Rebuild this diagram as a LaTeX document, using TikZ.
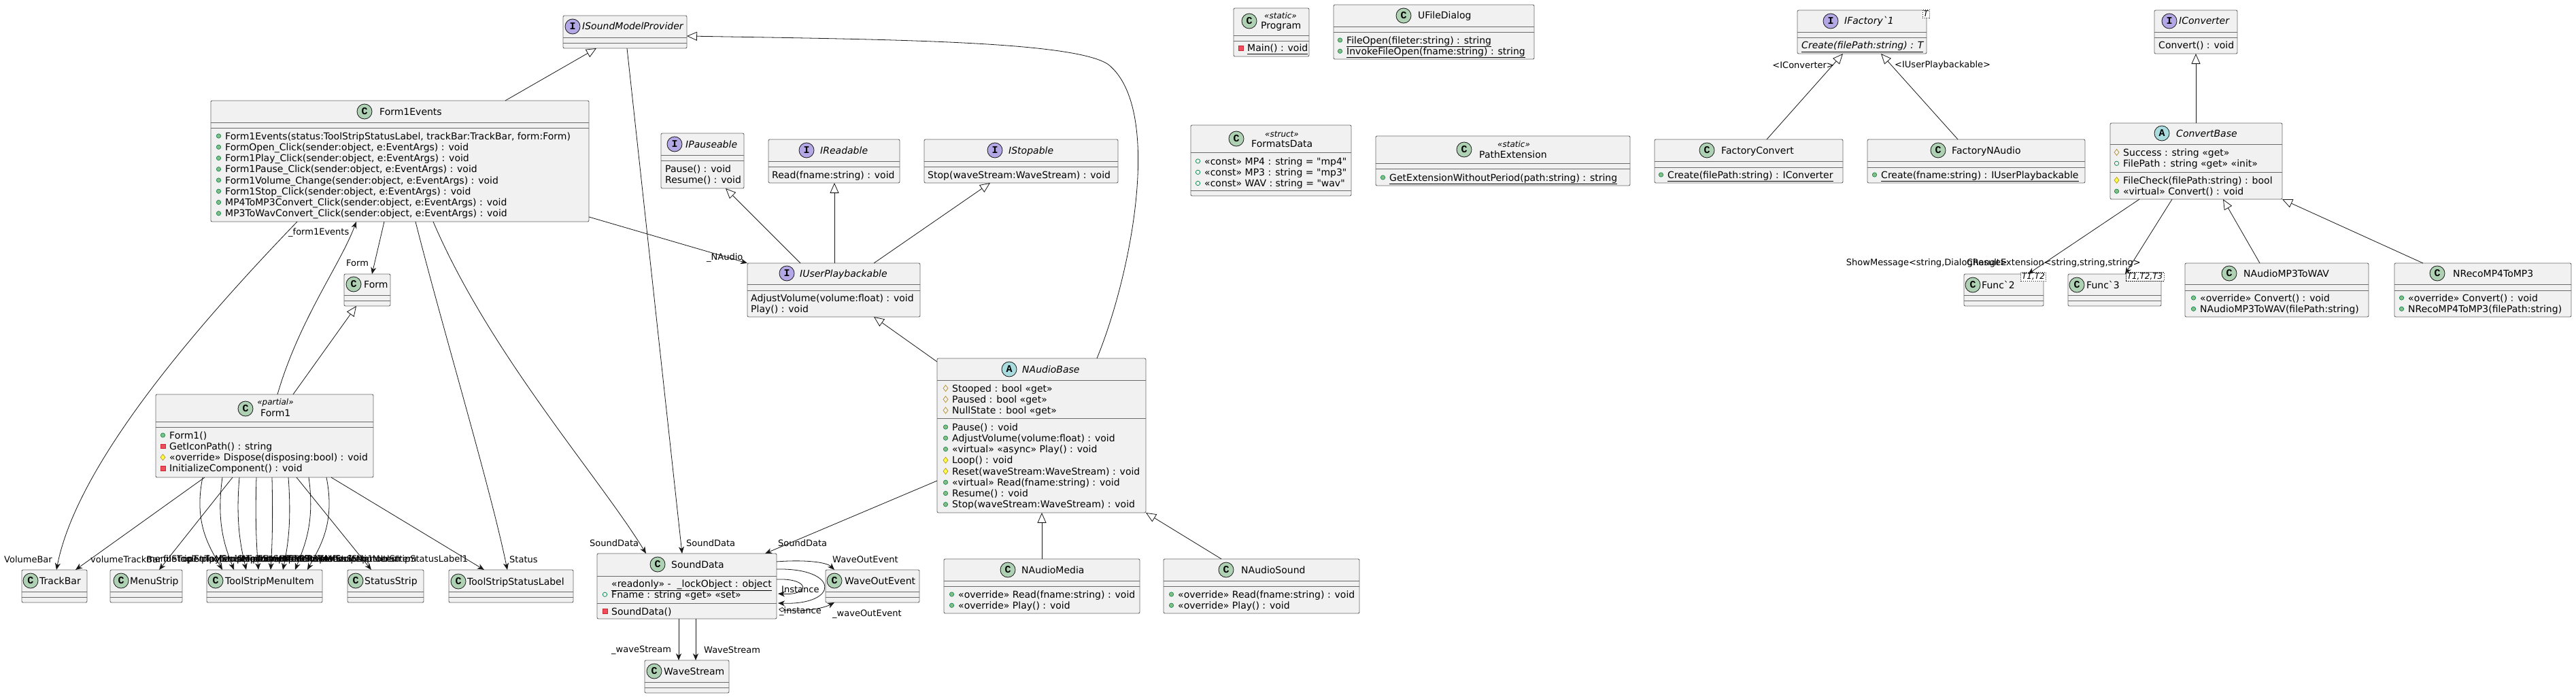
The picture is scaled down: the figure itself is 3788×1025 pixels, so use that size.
\documentclass[tikz,border=0pt]{standalone}
\usepackage{fontspec}
\newfontfamily\umlfont{DejaVu Sans}
\newfontfamily\iconfont{Liberation Mono}
\usetikzlibrary{arrows.meta,calc}
\definecolor{boxfill}{HTML}{F1F1F1}
\definecolor{ink}{HTML}{181818}
\definecolor{cgreen}{HTML}{ADD1B2}
\definecolor{ipurple}{HTML}{B4A7E5}
\definecolor{acyan}{HTML}{A9DCDF}
\definecolor{pubfill}{HTML}{84BE84}
\definecolor{publine}{HTML}{038048}
\definecolor{privfill}{HTML}{F24D5C}
\definecolor{privline}{HTML}{C82930}
\definecolor{protfill}{HTML}{FFFF44}
\definecolor{protline}{HTML}{B38D22}
\tikzset{
 ubox/.style={draw=ink!65, line width=0.9pt, fill=boxfill, rounded corners=2pt, inner sep=0, outer sep=0, anchor=north west},
 divl/.style={draw=ink!65, line width=0.9pt},
 icn/.style={circle, draw=ink, line width=0.8pt, minimum size=22pt, inner sep=0, font=\iconfont\bfseries\fontsize{15}{15}\selectfont},
 icnC/.style={icn, fill=cgreen}, icnI/.style={icn, fill=ipurple}, icnA/.style={icn, fill=acyan},
 ttl/.style={font=\umlfont\fontsize{14}{16}\selectfont, inner sep=0, anchor=base west},
 ttli/.style={ttl, font=\umlfont\itshape\fontsize{14}{16}\selectfont},
 ster/.style={font=\umlfont\itshape\fontsize{12}{14}\selectfont, inner sep=0},
 mem/.style={font=\umlfont\fontsize{14}{16}\selectfont, inner sep=0, anchor=base west},
 elab/.style={font=\umlfont\fontsize{13}{15}\selectfont, inner sep=0, anchor=west},
 conn/.style={draw=ink, line width=0.8pt},
 arr/.style={conn, -{Stealth[length=10pt,width=8pt,inset=3pt]}},
 gen/.style={conn, -{Triangle[length=15pt,width=13pt,fill=white]}},
 tmpl/.style={draw=ink, dash pattern=on 1.5pt off 1.5pt, fill=white, inner sep=1.5pt, font=\umlfont\itshape\fontsize{12}{13}\selectfont},
}
\newcommand\ubx[5]{\pgfmathsetmacro\bw{#4-#2}\pgfmathsetmacro\bh{#5-#3}\node[ubox,minimum width=\bw pt,minimum height=\bh pt] (#1) at (#2,#3) {};}
\newcommand\dv[2]{\draw[divl] (#1.west |- 0,#2) -- (#1.east |- 0,#2);}
\newcommand\hdr[7]{\node[icn#4] (#1ic) at (#2,#3) {#4};\pgfmathsetmacro\yb{#3+5}\node[#6] (#1tt) at (#5,\yb) {#7};}
\newcommand\vispm[2]{\filldraw[fill=pubfill,draw=publine,line width=0.6pt] (#1,#2) circle (3.2pt);}
\newcommand\vispf[2]{\draw[draw=publine,line width=0.7pt] (#1,#2) circle (3.2pt);}
\newcommand\visrm[2]{\filldraw[fill=privfill,draw=privline,line width=0.6pt] ($(#1,#2)+(-3.3,-3.3)$) rectangle ($(#1,#2)+(3.3,3.3)$);}
\newcommand\visym[2]{\filldraw[fill=protfill,draw=protline,line width=0.6pt] ($(#1,#2)+(0,-4.5)$) -- ($(#1,#2)+(3.5,0)$) -- ($(#1,#2)+(0,4.5)$) -- ($(#1,#2)+(-3.5,0)$) -- cycle;}
\newcommand\visyf[2]{\draw[draw=protline,line width=0.7pt] ($(#1,#2)+(0,-4.5)$) -- ($(#1,#2)+(3.5,0)$) -- ($(#1,#2)+(0,4.5)$) -- ($(#1,#2)+(-3.5,0)$) -- cycle;}
\newcommand\visn[2]{}
\newcommand\mems[4]{\foreach \k/\t [count=\i] in {#4}{\pgfmathsetmacro\yy{#3+(\i-1)*16.25}\pgfmathsetmacro\yb{\yy+5}\pgfmathsetmacro\xx{#2-9.5}\csname vis\k\endcsname{\xx}{\yy}\node[mem] (#1\i) at (#2,\yb) {\t};}}
\begin{document}
\begin{tikzpicture}[x=1pt,y=-1pt]
\fill[white] (0,0) rectangle (3788,1025);
\useasboundingbox (0,0) rectangle (3788,1025);

% ---------------- boxes ----------------
\ubx{ISMP}{828}{23}{1010}{71}
\ubx{F1E}{310}{148}{866}{326}
\ubx{IPause}{972}{196}{1094}{277}
\ubx{IRead}{1130}{205}{1323}{269}
\ubx{IStop}{1359}{205}{1644}{269}
\ubx{IUP}{1099}{387}{1353}{466}
\ubx{NAB}{1378}{527}{1685}{754}
\ubx{NAM}{1388}{822}{1676}{902}
\ubx{NAS}{1711}{822}{1999}{902}
\ubx{SD}{878}{814}{1142}{910}
\ubx{WOE}{1214}{838}{1352}{886}
\ubx{WS}{948}{971}{1072}{1019}
\ubx{TSSL}{660}{838}{843}{886}
\ubx{Form}{506}{403}{574}{450}
\ubx{Form1}{229}{580}{549}{702}
\ubx{TB}{32}{838}{128}{886}
\ubx{MS}{162}{838}{268}{886}
\ubx{TSMI}{304}{838}{474}{886}
\ubx{SS}{511}{838}{623}{886}
\ubx{Prog}{1814}{12}{1925}{83}
\ubx{UFD}{1961}{7}{2256}{87}
\ubx{FD}{1751}{184}{1987}{288}
\ubx{PE}{2023}{200}{2397}{273}
\ubx{IF}{2643}{15}{2833}{79}
\ubx{FC}{2433}{205}{2710}{269}
\ubx{FN}{2746}{205}{3066}{269}
\ubx{IC}{3168}{15}{3290}{79}
\ubx{CB}{3103}{181}{3356}{293}
\ubx{FnA}{2888}{403}{3005}{450}
\ubx{FnB}{3041}{403}{3178}{450}
\ubx{MW}{3213}{387}{3483}{466}
\ubx{NR}{3521}{387}{3781}{466}

% ---------------- dividers ----------------
\dv{ISMP}{55}\dv{ISMP}{63}
\dv{F1E}{180}\dv{F1E}{188}
\dv{IPause}{228}\dv{IPause}{236}
\dv{IRead}{237}\dv{IRead}{245}
\dv{IStop}{237}\dv{IStop}{245}
\dv{IUP}{418}\dv{IUP}{427}
\dv{NAB}{559}\dv{NAB}{615}
\dv{NAM}{854}\dv{NAM}{862}
\dv{NAS}{854}\dv{NAS}{862}
\dv{SD}{847}\dv{SD}{887}
\dv{WOE}{870}\dv{WOE}{878}
\dv{WS}{1003}\dv{WS}{1011}
\dv{TSSL}{870}\dv{TSSL}{878}
\dv{Form}{434}\dv{Form}{442}
\dv{Form1}{620}\dv{Form1}{628}
\dv{TB}{870}\dv{TB}{878}
\dv{MS}{870}\dv{MS}{878}
\dv{TSMI}{870}\dv{TSMI}{878}
\dv{SS}{870}\dv{SS}{878}
\dv{Prog}{52}\dv{Prog}{60}
\dv{UFD}{39}\dv{UFD}{47}
\dv{FD}{224}\dv{FD}{280}
\dv{PE}{240}\dv{PE}{248}
\dv{IF}{47}\dv{IF}{55}
\dv{FC}{237}\dv{FC}{246}
\dv{FN}{237}\dv{FN}{246}
\dv{IC}{47}\dv{IC}{55}
\dv{CB}{212}\dv{CB}{253}
\dv{FnA}{434}\dv{FnA}{442}
\dv{FnB}{434}\dv{FnB}{442}
\dv{MW}{418}\dv{MW}{427}
\dv{NR}{418}\dv{NR}{427}

% ---------------- headers ----------------
\hdr{ISMP}{842}{39}{I}{856}{ttli}{ISoundModelProvider}
\hdr{F1E}{536}{164}{C}{558}{ttl}{Form1Events}
\hdr{IPause}{992}{212}{I}{1008}{ttli}{IPauseable}
\hdr{IRead}{1186}{221}{I}{1206}{ttli}{IReadable}
\hdr{IStop}{1463}{221}{I}{1483}{ttli}{IStopable}
\hdr{IUP}{1157}{402}{I}{1176}{ttli}{IUserPlaybackable}
\hdr{NAB}{1484}{543}{A}{1503}{ttli}{NAudioBase}
\hdr{NAM}{1482}{838}{C}{1502}{ttl}{NAudioMedia}
\hdr{NAS}{1803}{838}{C}{1825}{ttl}{NAudioSound}
\hdr{SD}{967}{830}{C}{987}{ttl}{SoundData}
\hdr{WOE}{1227}{854}{C}{1242}{ttl}{WaveOutEvent}
\hdr{WS}{962}{987}{C}{976}{ttl}{WaveStream}
\hdr{TSSL}{674}{855}{C}{687}{ttl}{ToolStripStatusLabel}
\hdr{Form}{520}{418}{C}{535}{ttl}{Form}
\hdr{TB}{45}{854}{C}{58}{ttl}{TrackBar}
\hdr{MS}{178}{854}{C}{191}{ttl}{MenuStrip}
\hdr{TSMI}{317}{854}{C}{331}{ttl}{ToolStripMenuItem}
\hdr{SS}{523}{854}{C}{536}{ttl}{StatusStrip}
\hdr{UFD}{2064}{23}{C}{2085}{ttl}{UFileDialog}
\hdr{IF}{2692}{31}{I}{2712}{ttli}{IFactory`1}
\hdr{FC}{2510}{221}{C}{2531}{ttl}{FactoryConvert}
\hdr{FN}{2850}{221}{C}{2870}{ttl}{FactoryNAudio}
\hdr{IC}{3190}{31}{I}{3204}{ttli}{IConverter}
\hdr{CB}{3179}{196}{A}{3200}{ttli}{ConvertBase}
\hdr{FnA}{2901}{419}{C}{2914}{ttl}{Func`2}
\hdr{FnB}{3054}{419}{C}{3068}{ttl}{Func`3}
\hdr{MW}{3278}{402}{C}{3299}{ttl}{NAudioMP3ToWAV}
\hdr{NR}{3584}{402}{C}{3607}{ttl}{NRecoMP4ToMP3}
% headers with stereotypes
\node[icnC] (Form1ic) at (361,601) {C};
\node[ster] (Form1st) at (405,592) {«partial»};
\node[ttl] (Form1tt) at (383,612) {Form1};
\node[icnC] (Progic) at (1837,31) {C};
\node[ster] (Progst) at (1883,23) {«static»};
\node[ttl] (Progtt) at (1854,43) {Program};
\node[icnC] (FDic) at (1818,204) {C};
\node[ster] (FDst) at (1885,197) {«struct»};
\node[ttl] (FDtt) at (1840,216) {FormatsData};
\node[icnC] (PEic) at (2153,220) {C};
\node[ster] (PEst) at (2226,212) {«static»};
\node[ttl] (PEtt) at (2175,232) {PathExtension};
% template boxes
\node[tmpl] (IFtp) at (2832,20) {T};
\node[tmpl] (FnAtp) at (2990,407) {T1,T2};
\node[tmpl] (FnBtp) at (3154,407) {T1,T2,T3};

% ---------------- members ----------------
\mems{F1Em}{331}{200}{pm/{Form1Events(status:ToolStripStatusLabel, trackBar:TrackBar, form:Form)}, pm/{FormOpen\_Click(sender:object, e:EventArgs) : void}, pm/{Form1Play\_Click(sender:object, e:EventArgs) : void}, pm/{Form1Pause\_Click(sender:object, e:EventArgs) : void}, pm/{Form1Volume\_Change(sender:object, e:EventArgs) : void}, pm/{Form1Stop\_Click(sender:object, e:EventArgs) : void}, pm/{MP4ToMP3Convert\_Click(sender:object, e:EventArgs) : void}, pm/{MP3ToWavConvert\_Click(sender:object, e:EventArgs) : void}}
\mems{IPm}{978}{248}{n/{Pause() : void}, n/{Resume() : void}}
\mems{IRm}{1135}{257}{n/{Read(fname:string) : void}}
\mems{ISm}{1364}{257}{n/{Stop(waveStream:WaveStream) : void}}
\mems{IUm}{1104}{438}{n/{AdjustVolume(volume:float) : void}, n/{Play() : void}}
\mems{NBf}{1400}{571}{yf/{Stooped : bool «get»}, yf/{Paused : bool «get»}, yf/{NullState : bool «get»}}
\mems{NBm}{1400}{628}{pm/{Pause() : void}, pm/{AdjustVolume(volume:float) : void}, pm/{«virtual» «async» Play() : void}, ym/{Loop() : void}, ym/{Reset(waveStream:WaveStream) : void}, pm/{«virtual» Read(fname:string) : void}, pm/{Resume() : void}, pm/{Stop(waveStream:WaveStream) : void}}
\mems{NMm}{1409}{874}{pm/{«override» Read(fname:string) : void}, pm/{«override» Play() : void}}
\mems{NSm}{1732}{874}{pm/{«override» Read(fname:string) : void}, pm/{«override» Play() : void}}
\mems{SDf}{899}{858}{n/{\underline{«readonly» -\ \ \_lockObject : object}}, pf/{Fname : string «get» «set»}}
\mems{SDm}{899}{899}{rm/{SoundData()}}
\mems{F1m}{249}{640}{pm/{Form1()}, rm/{GetIconPath() : string}, ym/{«override» Dispose(disposing:bool) : void}, rm/{InitializeComponent() : void}}
\mems{PGm}{1834}{71}{rm/{\underline{Main() : void}}}
\mems{UFm}{1980}{59}{pm/{\underline{FileOpen(fileter:string) : string}}, pm/{\underline{InvokeFileOpen(fname:string) : string}}}
\mems{FDf}{1771}{237}{pf/{«const» MP4 : string = "mp4"}, pf/{«const» MP3 : string = "mp3"}, pf/{«const» WAV : string = "wav"}}
\mems{PEm}{2043}{261}{pm/{\underline{GetExtensionWithoutPeriod(path:string) : string}}}
\mems{IFm}{2649}{67}{n/{\itshape\underline{Create(filePath:string) : T}}}
\mems{FCm}{2452}{257}{pm/{\underline{Create(filePath:string) : IConverter}}}
\mems{FNm}{2766}{257}{pm/{\underline{Create(fname:string) : IUserPlaybackable}}}
\mems{ICm}{3174}{67}{n/{Convert() : void}}
\mems{CBf}{3122}{224}{yf/{Success : string «get»}, pf/{FilePath : string «get» «init»}}
\mems{CBm}{3122}{265}{ym/{FileCheck(filePath:string) : bool}, pm/{«virtual» Convert() : void}}
\mems{MWm}{3235}{438}{pm/{«override» Convert() : void}, pm/{NAudioMP3ToWAV(filePath:string)}}
\mems{NRm}{3541}{438}{pm/{«override» Convert() : void}, pm/{NRecoMP4ToMP3(filePath:string)}}

% ---------------- connectors ----------------
\draw[gen] ($(F1E.north west)+(433,0)$) -- ($(ISMP.south west)+(49,0)$);
\draw[gen] ($(NAB.north west)+(235,0)$) .. controls (1665,400) and (1710,160) .. (1630,95) .. controls (1580,60) and (1300,58) .. ($(ISMP.north east)+(0,30)$);
\draw[arr] ($(ISMP.south west)+(94,0)$) -- ($(SD.north west)+(125,0)$);
\draw[arr] ($(F1E.north east)+(0,171)$) -- (IUP.north west);
\draw[gen] ($(IUP.north west)+(78,0)$) -- ($(IPause.south west)+(95,0)$);
\draw[gen] ($(IUP.north west)+(128,0)$) -- ($(IRead.south west)+(97,0)$);
\draw[gen] ($(IUP.north west)+(186,0)$) -- ($(IStop.south west)+(97,0)$);
\draw[gen] ($(NAB.north west)+(0,5)$) -- ($(IUP.south west)+(186,0)$);
\draw[gen] ($(NAM.north west)+(144,0)$) -- ($(NAB.south west)+(154,0)$);
\draw[gen] ($(NAS.north west)+(85,0)$) -- (NAB.south east);
\draw[arr] ($(NAB.north west)+(0,180)$) -- ($(SD.north west)+(247,0)$);
\draw[arr] ($(F1E.south west)+(327,0)$) .. controls (720,520) and (880,700) .. ($(SD.north west)+(72,0)$);
\draw[arr] ($(F1E.south west)+(301,0)$) .. controls (650,480) and (722,720) .. ($(TSSL.north west)+(86,0)$);
\draw[arr] ($(F1E.south west)+(255,0)$) -- ($(Form.north west)+(41,0)$);
\draw[arr] ($(Form1.north west)+(179,0)$) .. controls (440,470) and (500,390) .. ($(F1E.south west)+(214,0)$);
\draw[gen] ($(Form1.north west)+(202,0)$) -- ($(Form.south west)+(18,0)$);
\draw[arr] ($(F1E.south west)+(127,0)$) .. controls (250,520) and (110,700) .. ($(TB.north west)+(51,0)$);
\draw[arr] ($(Form1.south west)+(72,0)$) -- ($(TB.north west)+(79,0)$);
\draw[arr] ($(Form1.south west)+(113,0)$) -- ($(MS.north west)+(72,0)$);
\foreach \s/\e in {298/327,327/344,352/362,377/380,400/398,424/416,454/434,480/452}{
  \draw[arr] ($(Form1.south west)+({\s-229},0)$) .. controls ({\s+(\s-390)*0.15},770) and ({\e+(\s-390)*0.2},805) .. ($(TSMI.north west)+({\e-304},0)$);
}
\draw[arr] ($(Form1.south west)+(207,0)$) -- ($(SS.north west)+(35,0)$);
\draw[arr] ($(Form1.south west)+(258,0)$) -- ($(TSSL.north west)+(52,0)$);
\draw[arr] ($(SD.north east)+(0,12)$) .. controls (1180,823) and (1215,826) .. ($(WOE.north west)+(13,0)$);
\draw[arr] ($(SD.north east)+(0,38)$) .. controls (1192,850) and (1192,876) .. ($(SD.north east)+(2,59)$);
\draw[arr] ($(SD.north east)+(0,23)$) .. controls (1235,835) and (1235,890) .. ($(SD.north east)+(2,73)$);
\draw[conn, {Diamond[length=10pt,width=7pt,fill=white]}-{Stealth[length=10pt,width=8pt,inset=3pt]}] ($(SD.north east)+(3,82)$) .. controls (1180,900) and (1210,895) .. ($(WOE.south west)+(13,0)$);
\draw[arr] ($(SD.south west)+(120,0)$) -- ($(WS.north west)+(50,0)$);
\draw[arr] ($(SD.south west)+(145,0)$) -- ($(WS.north west)+(75,0)$);
\draw[gen] ($(FC.north west)+(165,0)$) -- ($(IF.south west)+(67,0)$);
\draw[gen] ($(FN.north west)+(133,0)$) -- ($(IF.south west)+(123,0)$);
\draw[gen] ($(CB.north west)+(126,0)$) -- ($(IC.south west)+(61,0)$);
\draw[arr] ($(CB.south west)+(43,0)$) -- ($(FnA.north west)+(94,0)$);
\draw[arr] ($(CB.south west)+(91,0)$) -- ($(FnB.north west)+(84,0)$);
\draw[gen] ($(MW.north west)+(110,0)$) -- ($(CB.south west)+(166,0)$);
\draw[gen] ($(NR.north west)+(42,0)$) -- (CB.south east);

% ---------------- connector labels ----------------
\node[elab] (lb1) at (1009,799) {SoundData};
\node[elab] (lb2) at (1144,799) {SoundData};
\node[elab] (lb3) at (867,799) {SoundData};
\node[elab] (lb4) at (1039,379) {\_NAudio};
\node[elab] (lb5) at (749,823) {Status};
\node[elab] (lb6) at (509,387) {Form};
\node[elab] (lb7) at (424,342) {\_form1Events};
\node[elab] (lb8) at (6,823) {VolumeBar};
\node[elab] (lb9) at (133,823) {volumeTrackBar};
\node[elab] (lb10) at (215,823) {menuStrip1};
\node[elab] (lb11) at (240,823) {fileToolStripMenuItem};
\node[elab] (lb12) at (268,823) {openToolStripMenuItem};
\node[elab] (lb13) at (296,823) {playToolStripMenuItem};
\node[elab] (lb14) at (322,823) {pauseToolStripMenuItem};
\node[elab] (lb15) at (348,823) {stopToolStripMenuItem};
\node[elab] (lb16) at (372,823) {convertToolStripMenuItem};
\node[elab] (lb17) at (398,823) {mP4ToMP3ToolStripMenuItem};
\node[elab] (lb18) at (420,823) {mP3ToWAVToolStripMenuItem};
\node[elab] (lb19) at (470,823) {statusStrip1};
\node[elab] (lb20) at (548,823) {toolStripStatusLabel1};
\node[elab] (lb21) at (1224,823) {WaveOutEvent};
\node[elab] (lb22) at (1149,867) {Instance};
\node[elab] (lb23) at (1146,899) {\_instance};
\node[elab] (lb24) at (1224,903) {\_waveOutEvent};
\node[elab] (lb25) at (899,956) {\_waveStream};
\node[elab] (lb26) at (1035,956) {WaveStream};
\node[elab,anchor=east] (lb27) at (2697,96) {<IConverter>};
\node[elab] (lb28) at (2786,96) {<IUserPlaybackable>};
\node[elab,anchor=east] (lb29) at (2952,387) {ShowMessage<string,DialogResult>};
\node[elab] (lb30) at (2892,387) {ChangeExtension<string,string,string>};
\end{tikzpicture}
\end{document}
